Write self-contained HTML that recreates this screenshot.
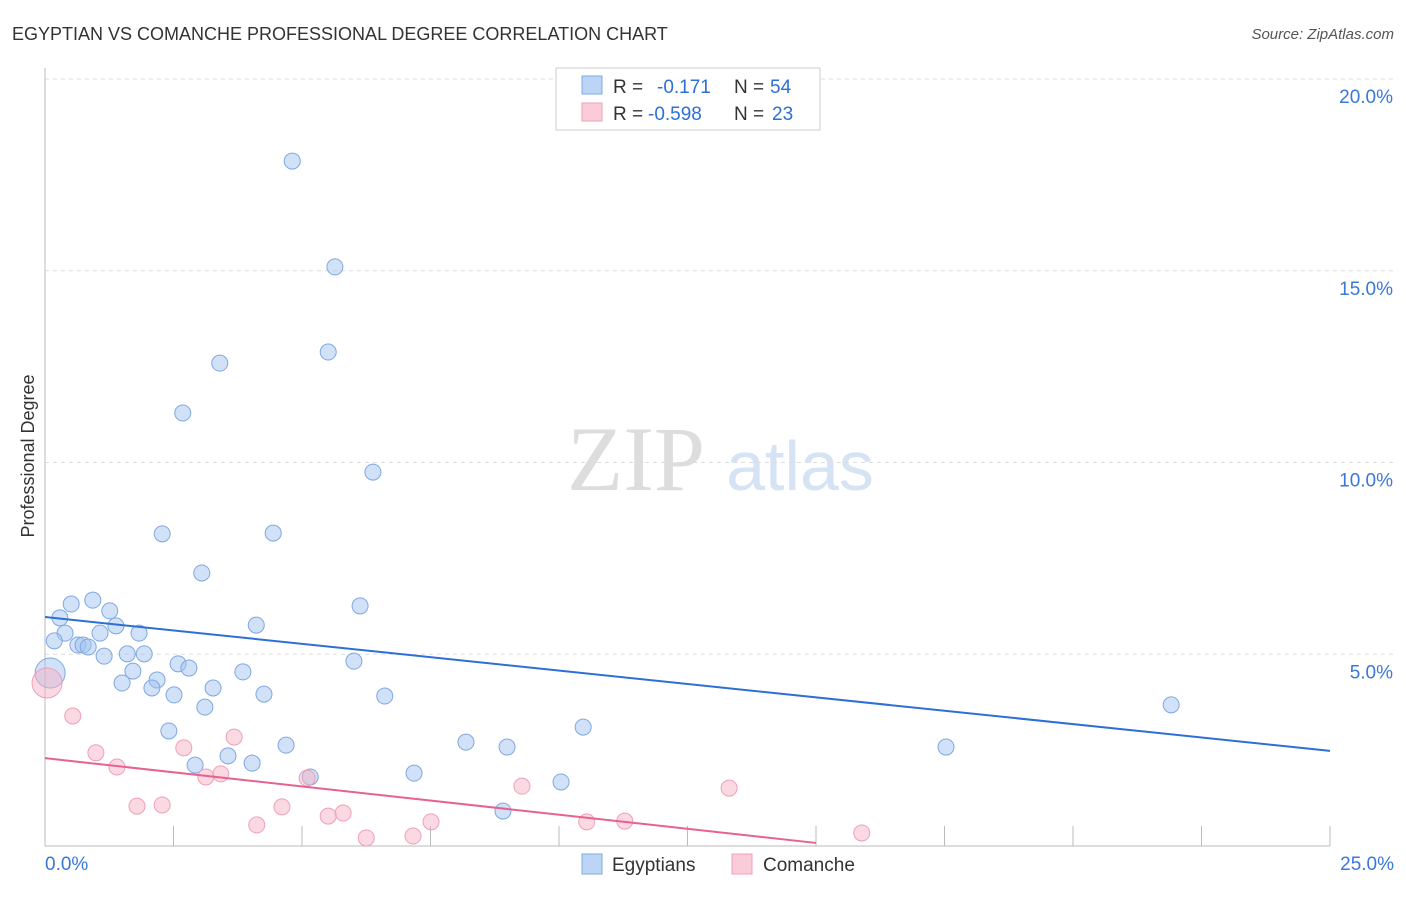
<!DOCTYPE html>
<html><head><meta charset="utf-8"><style>
body{margin:0;background:#fff;font-family:"Liberation Sans",sans-serif;}
svg text{font-family:"Liberation Sans",sans-serif;}
</style></head><body>
<svg id="chart" width="1406" height="892">
<text x="12" y="40" font-size="18" fill="#333">EGYPTIAN VS COMANCHE PROFESSIONAL DEGREE CORRELATION CHART</text>
<text x="1394" y="39" font-size="15" fill="#555" font-style="italic" text-anchor="end">Source: ZipAtlas.com</text>
<text x="34" y="456" font-size="18" fill="#333" text-anchor="middle" transform="rotate(-90 34 456)">Professional Degree</text>
<text x="636" y="490" font-size="92" fill="#ddd" font-family="Liberation Serif" text-anchor="middle" style="font-family:'Liberation Serif',serif">ZIP</text>
<text x="800" y="490" font-size="70" fill="#d5e3f5" text-anchor="middle">atlas</text>
<g id="grid"></g><g id="pts"></g><g id="lines"></g>
<g>
<rect x="556" y="68" width="264" height="62" fill="#fff" stroke="#ccc"/>
<rect x="582" y="76" width="20" height="18" fill="#bcd4f6" stroke="#7fa8e0"/>
<rect x="582" y="103" width="20" height="18" fill="#f9ccd8" stroke="#eea0b8"/>
<text x="613" y="93" font-size="19" fill="#333">R = </text><text x="657" y="93" font-size="19" fill="#2d6fd6">-0.171</text>
<text x="734" y="93" font-size="19" fill="#333">N = </text><text x="770" y="93" font-size="19" fill="#2d6fd6">54</text>
<text x="613" y="120" font-size="19" fill="#333">R = </text><text x="648" y="120" font-size="19" fill="#2d6fd6">-0.598</text>
<text x="734" y="120" font-size="19" fill="#333">N = </text><text x="772" y="120" font-size="19" fill="#2d6fd6">23</text>
</g>
<g>
<rect x="582" y="854" width="20" height="20" fill="#bcd4f6" stroke="#7fa8e0"/>
<text x="612" y="871" font-size="19" fill="#333">Egyptians</text>
<rect x="732" y="854" width="20" height="20" fill="#f9ccd8" stroke="#eea0b8"/>
<text x="763" y="871" font-size="19" fill="#333">Comanche</text>
</g>
</svg>
<script>
const yTicks=[5,10,15,20];
const yTickLabels=["5.0%","10.0%","15.0%","20.0%"];
const xTickLabels=["0.0%","25.0%"];
const blueX=[4.81,5.64,5.51,3.40,2.68,6.38,2.28,4.44,3.05,6.13,4.11,0.51,0.93,1.26,0.29,1.38,0.39,1.07,1.83,0.18,0.64,0.74,0.84,1.60,1.93,1.15,6.01,2.59,2.80,1.71,3.85,0.10,2.18,1.50,2.08,3.27,4.26,2.51,6.61,3.11,21.91,10.47,2.41,4.69,8.19,8.99,17.53,3.56,2.92,4.03,5.16,7.18,10.04,8.91];
const blueY=[17.86,15.10,12.88,12.59,11.29,9.75,8.14,8.16,7.12,6.26,5.76,6.31,6.41,6.13,5.95,5.74,5.55,5.55,5.55,5.35,5.24,5.24,5.19,5.01,5.01,4.95,4.82,4.75,4.64,4.56,4.54,4.51,4.33,4.25,4.12,4.12,3.96,3.94,3.91,3.62,3.68,3.10,3.00,2.63,2.71,2.58,2.58,2.35,2.11,2.16,1.80,1.90,1.67,0.91];
const pinkX=[0.04,0.54,0.99,1.40,3.68,2.70,3.42,3.13,5.10,1.79,2.28,4.61,5.80,5.51,4.12,7.51,6.25,7.16,9.28,13.31,10.54,11.28,15.89];
const pinkY=[4.25,3.39,2.43,2.06,2.84,2.56,1.88,1.80,1.77,1.04,1.07,1.02,0.86,0.78,0.55,0.63,0.21,0.26,1.56,1.51,0.63,0.65,0.34];
const blueTrend=[5.97,2.48];
const pinkTrend=[2.29,0.08,15];
const X0=45,X1=1330,Y0=846,Y20=79;
const sx=v=>X0+v*(X1-X0)/25, sy=v=>Y0-v*(Y0-Y20)/20;
const NS="http://www.w3.org/2000/svg";
function mk(t,a,p){const e=document.createElementNS(NS,t);for(const k in a)e.setAttribute(k,a[k]);p.appendChild(e);return e;}
const grid=document.getElementById('grid');
yTicks.forEach((t,i)=>{
 const l=mk('line',{x1:X0,x2:1394,y1:sy(t),y2:sy(t),stroke:'#ddd','stroke-dasharray':'4,4'},grid);
 
 
 const tx=mk('text',{x:1393,y:sy(t)+24,'font-size':19,fill:'#3a78d8','text-anchor':'end'},grid);
 tx.textContent=yTickLabels[i];
 
 
});
const ax=mk('line',{x1:X0,x2:X0,y1:68,y2:Y0,stroke:'#bbb'},grid);


const bx=mk('line',{x1:X0,x2:X1,y1:Y0,y2:Y0,stroke:'#bbb'},grid);


for(let i=0;i<=10;i++){const t=mk('line',{x1:sx(i*2.5),x2:sx(i*2.5),y1:826,y2:Y0,stroke:'#bbb'},grid);
 
 }
[[0,'start',45],[25,'end',1394]].forEach((d,i)=>{const t=mk('text',{x:d[2],y:870,'font-size':19,fill:'#3a78d8','text-anchor':d[1]},grid);t.textContent=xTickLabels[i];
 
 });
const pts=document.getElementById('pts');
function draw(xs,ys,fill,stroke,name){xs.forEach((x,i)=>{const r=(x<0.15&&ys[i]>4)?15:8;
 const c=mk('circle',{cx:sx(x),cy:sy(ys[i]),r:r,fill:fill,stroke:stroke,'stroke-width':1},pts);
 
 });}
draw(blueX,blueY,'rgba(164,196,240,0.5)','#7fa8e0','egyptian-point');
draw(pinkX,pinkY,'rgba(245,180,200,0.5)','#eea0b8','comanche-point');
const lines=document.getElementById('lines');
const bl=mk('line',{x1:sx(0),y1:sy(blueTrend[0]),x2:sx(25),y2:sy(blueTrend[1]),stroke:'#2d6fd6','stroke-width':2},lines);


const pl=mk('line',{x1:sx(0),y1:sy(pinkTrend[0]),x2:sx(pinkTrend[2]),y2:sy(pinkTrend[1]),stroke:'#e8628f','stroke-width':2},lines);


</script>
</body></html>
